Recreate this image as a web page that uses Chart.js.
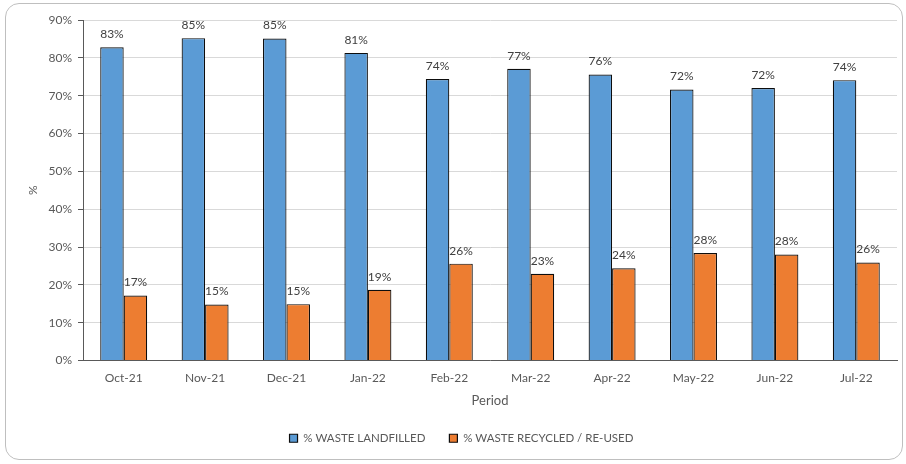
<!DOCTYPE html>
<html>
<head>
<meta charset="utf-8">
<script src="https://cdn.jsdelivr.net/npm/chart.js@4"></script>
<style>
    html, body { margin: 0; padding: 0; background: #fff; }
    #wrap { position: relative; width: 906px; height: 464px; }
    #frame {
        position: absolute; left: 5px; top: 3px; width: 896px; height: 455px;
        border: 1px solid #bfbfbf; border-radius: 14px; pointer-events: none;
    }
</style>
</head>
<body>
<div id="wrap">
    <canvas id="wasteChart" width="906" height="464"></canvas>
    <div id="frame"></div>
</div>
<script>
const periods = ['Oct-21', 'Nov-21', 'Dec-21', 'Jan-22', 'Feb-22', 'Mar-22', 'Apr-22', 'May-22', 'Jun-22', 'Jul-22'];
const landfilled = [82.8, 85.2, 85.1, 81.3, 74.4, 77.1, 75.6, 71.6, 72.0, 74.1];
const recycled = [17.2, 14.8, 14.9, 18.7, 25.6, 22.9, 24.4, 28.4, 28.0, 25.9];
const yTicks = [0, 10, 20, 30, 40, 50, 60, 70, 80, 90];

const FONT = 'Lato, "Open Sans", sans-serif';
const TEXT = '#595959';

// Value labels above each bar
const barLabels = {
    id: 'barLabels',
    afterDatasetsDraw(chart) {
        const ctx = chart.ctx;
        ctx.save();
        ctx.font = '12px ' + FONT;
        ctx.fillStyle = '#404040';
        ctx.textAlign = 'center';
        ctx.textBaseline = 'bottom';
        chart.data.datasets.forEach((ds, i) => {
            chart.getDatasetMeta(i).data.forEach((bar, j) => {
                ctx.fillText(Math.round(ds.data[j]) + '%', bar.x, bar.y - 7);
            });
        });
        ctx.restore();
    }
};

new Chart(document.getElementById('wasteChart'), {
    type: 'bar',
    data: {
        labels: periods,
        datasets: [{
            label: '% WASTE LANDFILLED',
            data: landfilled,
            backgroundColor: '#5B9BD5',
            borderColor: '#0d0d0d',
            borderWidth: 1.2
        }, {
            label: '% WASTE RECYCLED / RE-USED',
            data: recycled,
            backgroundColor: '#ED7D31',
            borderColor: '#0d0d0d',
            borderWidth: 1.2
        }]
    },
    options: {
        responsive: false,
        animation: false,
        layout: { padding: { left: 26, right: 9, top: 20, bottom: 10 } },
        datasets: {
            bar: { categoryPercentage: 0.577, barPercentage: 1 }
        },
        scales: {
            x: {
                grid: { display: false, drawTicks: false },
                border: { color: '#595959', width: 1 },
                ticks: { color: TEXT, font: { family: FONT, size: 12 }, padding: 10, maxRotation: 0 },
                title: { display: true, text: 'Period', color: TEXT, font: { family: FONT, size: 13 }, padding: { top: 4, bottom: 0 } },
                afterFit(scale) { scale.height = 48; }
            },
            y: {
                min: 0,
                max: 90,
                afterBuildTicks(scale) { scale.ticks = yTicks.map(v => ({ value: v })); },
                grid: { color: '#d9d9d9', tickColor: '#595959', tickLength: 5 },
                border: { color: '#595959', width: 1 },
                ticks: {
                    color: TEXT,
                    font: { family: FONT, size: 12 },
                    padding: 6,
                    callback: v => v + '%'
                },
                title: { display: true, text: '%', color: TEXT, font: { family: FONT, size: 12 }, padding: 0 },
                afterFit(scale) { scale.width = 57; }
            }
        },
        plugins: {
            legend: {
                position: 'bottom',
                labels: {
                    color: TEXT,
                    font: { family: FONT, size: 11.5 },
                    boxWidth: 8,
                    boxHeight: 8,
                    padding: 24
                }
            },
            tooltip: { enabled: false }
        }
    },
    plugins: [barLabels]
});
</script>
</body>
</html>
